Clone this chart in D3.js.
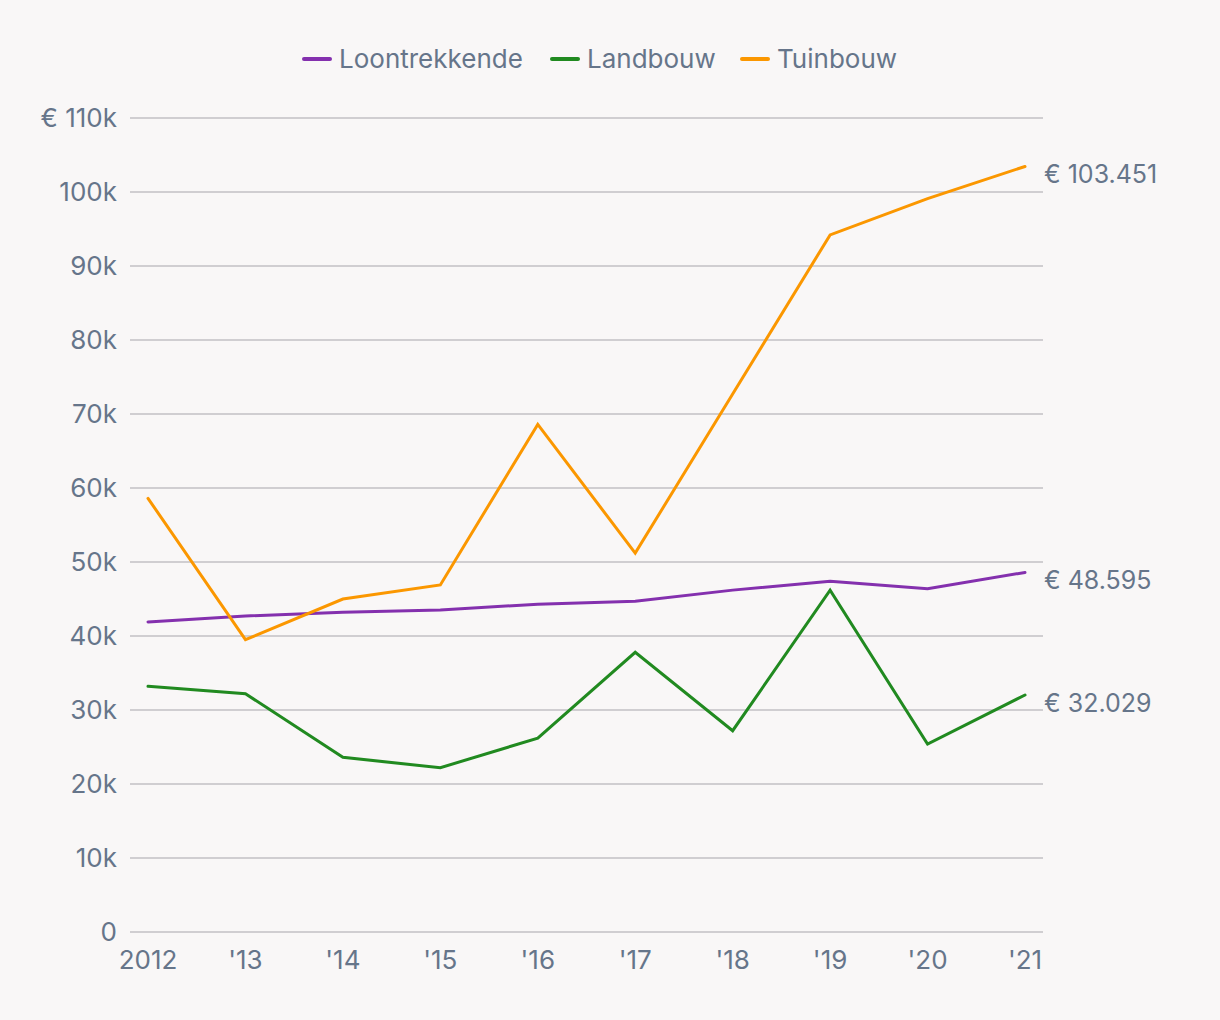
<!DOCTYPE html>
<html><head><meta charset="utf-8">
<script src="https://cdn.jsdelivr.net/npm/d3@7"></script>
<style>
html,body{margin:0;padding:0;background:#f9f7f7;}
svg{display:block;font-family:Inter,"Noto Sans",sans-serif;}
</style></head>
<body>
<svg id="chart" width="1220" height="1020"></svg>
<script>
const years = ["2012","'13","'14","'15","'16","'17","'18","'19","'20","'21"];
const seriesNames = ["Loontrekkende","Landbouw","Tuinbouw"];
const colors = ["#8430ae","#218a20","#fb9700"];
const loontrekkende = [41900,42700,43200,43500,44300,44700,46200,47400,46400,48595];
const landbouw = [33200,32200,23600,22200,26200,37800,27200,46200,25400,32029];
const tuinbouw = [58600,39500,45000,46900,68600,51200,72700,94200,99100,103451];
const yTicks = [0,10000,20000,30000,40000,50000,60000,70000,80000,90000,100000,110000];
const endLabels = ["€ 48.595","€ 32.029","€ 103.451"];

const data = [loontrekkende, landbouw, tuinbouw];
const svg = d3.select("#chart");
const textColor = "#66758a";

const x = d3.scalePoint().domain(years).range([148,1025]);
const y = d3.scaleLinear().domain([0,110000]).range([932,118]);

// gridlines
svg.append("g").selectAll("line").data(yTicks).join("line")
  .attr("x1",130).attr("x2",1043)
  .attr("y1",d=>y(d)).attr("y2",d=>y(d))
  .attr("stroke","#c2c0c4").attr("stroke-width",1.5);

// y labels
svg.append("g").selectAll("text").data(yTicks).join("text")
  .attr("x",117).attr("y",d=>y(d)).attr("dy","0.35em")
  .attr("text-anchor","end").attr("font-size",26).attr("fill",textColor)
  .text(d=> d===0 ? "0" : (d===110000 ? "€ " : "") + (d/1000) + "k");

// x labels
svg.append("g").selectAll("text").data(years).join("text")
  .attr("x",d=>x(d)).attr("y",969)
  .attr("text-anchor","middle").attr("font-size",26).attr("fill",textColor)
  .text(d=>d);

// lines
const line = d3.line().x((d,i)=>x(years[i])).y(d=>y(d));
svg.append("g").selectAll("path").data(data).join("path")
  .attr("d",d=>line(d)).attr("fill","none")
  .attr("stroke",(d,i)=>colors[i]).attr("stroke-width",3)
  .attr("stroke-linejoin","miter").attr("stroke-linecap","round");

// end labels
svg.append("g").selectAll("text").data(data).join("text")
  .attr("x",1044).attr("y",d=>y(d[d.length-1]) + 8).attr("dy","0.35em")
  .attr("font-size",25).attr("fill",textColor)
  .text((d,i)=>endLabels[i]);

// legend
const legendX = [303,551,741];
const lg = svg.append("g").selectAll("g").data(seriesNames).join("g")
  .attr("transform",(d,i)=>`translate(${legendX[i]},59)`);
lg.append("line").attr("x1",1).attr("x2",27).attr("y1",0).attr("y2",0)
  .attr("stroke",(d,i)=>colors[i]).attr("stroke-width",4).attr("stroke-linecap","round");
lg.append("text").attr("x",36).attr("dy","0.35em").attr("font-size",26)
  .attr("fill",textColor).text(d=>d);
</script>
</body></html>
